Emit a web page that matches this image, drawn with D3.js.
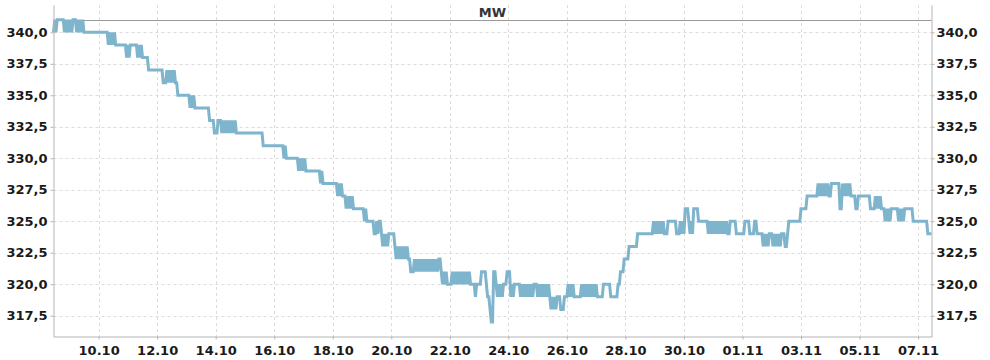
<!DOCTYPE html>
<html>
<head>
<meta charset="utf-8">
<script src="https://cdn.jsdelivr.net/npm/d3@7"></script>
<style>
  html, body { margin: 0; padding: 0; background: #fff; }
  svg { display: block; }
  text { font-family: "DejaVu Sans", sans-serif; }
</style>
</head>
<body>
<svg id="chart" width="990" height="360"></svg>
<script>
// ---- DATA ----
const seriesTitle = "MW";
const seriesStart = "2023-10-08T11:00:00";   // first hourly sample
const domainStart = "2023-10-08T11:00:00";
const domainEnd   = "2023-11-07T11:00:00";
const refLevel = 341;                         // grey reference line at top
const yTicks = [317.5, 320, 322.5, 325, 327.5, 330, 332.5, 335, 337.5, 340];
const xTicks = ["2023-10-10","2023-10-12","2023-10-14","2023-10-16","2023-10-18",
                "2023-10-20","2023-10-22","2023-10-24","2023-10-26","2023-10-28",
                "2023-10-30","2023-11-01","2023-11-03","2023-11-05","2023-11-07"];
// hourly readings, run-length encoded: [MW value, number of hours]
const runs = [
  [340,1],[341,1],[340,1],[341,6],
  [340,1],[341,1],[340,1],[341,1],[340,1],[341,1],[340,1],[341,1],[341,2],
  [340,1],[341,1],[340,1],[341,1],[340,1],[341,1],[340,20],
  [339,1],[340,1],[339,1],[340,1],[339,1],[340,1],[339,9],
  [338,1],[339,1],[338,1],[339,1],[339,5],
  [338,1],[339,1],[338,1],[339,1],[338,5],
  [337,12],[336,3],[337,1],
  [336,1],[337,1],[336,1],[337,1],[336,1],[337,1],[336,2],
  [335,10],[334,1],[335,1],[334,1],[335,1],[334,12],
  [333,4],[332,3],[333,3],
  [332,1],[333,1],[332,1],[333,1],[332,1],[333,1],[332,1],[333,1],[332,1],
  [333,1],[332,1],[333,1],[332,22],
  [331,17],[330,1],[331,1],[330,10],
  [329,1],[330,1],[329,1],[330,1],[329,1],[330,1],[329,12],
  [328,1],[329,1],[328,12],
  [327,1],[328,1],[327,1],[328,1],[327,3],
  [326,1],[327,1],[326,1],[327,1],[326,1],[327,1],[326,1],[326,8],
  [325,1],[326,1],[325,6],[324,2],
  [325,1],[324,1],[325,2],[324,1],
  [323,1],[324,1],[323,1],[324,1],[323,1],[324,5],
  [323,1],[322,1],[323,1],[322,1],[323,1],[322,1],[323,1],[322,1],[323,1],[322,1],[323,1],[322,1],[322,1],
  [321,3],[322,1],
  [321,1],[322,1],[321,1],[322,1],[321,1],[322,1],[321,1],[322,1],[321,1],[322,1],
  [321,1],[322,1],[321,1],[322,1],[321,1],[322,1],[321,1],[322,1],[321,1],[322,1],
  [322,1],
  [321,1],[320,1],[321,1],[320,1],[321,1],[320,4],
  [321,1],[320,1],[321,1],[320,1],[321,1],[320,1],
  [321,1],[320,1],[321,1],[320,1],[321,1],[320,1],[321,1],[320,1],[321,1],
  [320,4],[319,1],[320,4],[321,4],
  [320,1],[319,2],[318,1],[317,2],[321,2],
  [320,1],[319,1],[320,1],[319,1],[320,1],[319,1],
  [320,3],[321,3],
  [319,1],[320,1],[319,1],[320,5],
  [319,1],[320,1],[319,1],[320,1],[319,1],[320,1],[319,1],[320,1],[319,1],[320,1],[319,1],[320,1],
  [320,2],[319,1],[320,1],
  [319,1],[320,1],[319,1],[320,1],[319,1],[320,1],[319,1],[320,1],
  [319,1],[318,1],[319,1],[318,1],[319,1],[318,1],
  [319,3],[318,3],[319,3],
  [320,1],[319,1],[320,1],[319,1],[320,1],[319,1],[319,5],
  [320,1],[319,1],[320,1],[319,1],[320,1],[319,1],[320,1],[319,1],
  [320,1],[319,1],[320,1],[319,1],[320,1],[319,1],[319,4],
  [320,6],[319,6],[320,2],[321,3],[322,4],[323,7],[324,13],
  [325,1],[324,1],[325,1],[324,1],[325,1],[324,1],[325,1],[324,1],[325,1],[324,1],[324,2],
  [325,7],[324,3],
  [325,1],[324,1],[325,1],[324,1],
  [326,3],
  [325,1],[324,1],[325,1],[324,1],
  [326,4],[325,8],
  [324,1],[325,1],[324,1],[325,1],[324,1],[325,1],[324,1],[325,1],
  [324,1],[325,1],[324,1],[325,1],[324,1],[325,1],[324,1],[325,1],[324,2],
  [325,5],[324,7],[325,4],[324,4],[325,2],[324,5],
  [323,1],[324,1],[323,1],[324,1],[323,1],[324,3],
  [323,1],[324,1],[323,1],[324,1],[323,1],[324,1],[323,1],[324,1],
  [324,2],[323,2],[324,1],
  [325,10],[326,5],[327,9],
  [328,1],[327,1],[328,1],[327,1],[328,1],[327,1],[328,1],[327,1],[328,1],[327,1],[327,1],
  [328,7],[326,2],
  [328,1],[327,1],[328,1],[327,1],[328,1],[327,1],[328,1],[327,1],
  [327,3],[326,2],[327,10],[326,4],
  [327,1],[326,1],[327,1],[326,1],[327,1],[326,3],
  [325,1],[326,1],[325,1],[326,1],[325,1],[326,6],
  [325,1],[326,1],[325,1],[326,1],[325,1],[326,7],
  [325,12],[324,4]
];

// ---- CHART ----
const parse = d3.isoParse;
const t0 = parse(seriesStart);
const data = [];
let h = 0;
runs.forEach(([v, n]) => {
  for (let i = 0; i < n; i++) {
    data.push({ t: d3.timeHour.offset(t0, h), v });
    h++;
  }
});

const svg = d3.select("#chart");
const L = 53.5, R = 931.5, T = 5, B = 336.5;

const x = d3.scaleTime().domain([parse(domainStart), parse(domainEnd)]).range([L, R]);
const y = d3.scaleLinear().domain([315.85, 342.17]).range([B, T]);

const locale = d3.formatLocale({ decimal: ",", thousands: ".", grouping: [3], currency: ["", ""] });
const fmtY = locale.format(".1f");
const fmtX = d3.timeFormat("%d.%m");
const xTickDates = xTicks.map(s => parse(s + "T00:00:00"));

// grid
const grid = svg.append("g").attr("class", "grid");
grid.selectAll("line.h").data(yTicks).join("line")
  .attr("x1", L).attr("x2", R)
  .attr("y1", d => Math.round(y(d)) + 0.5).attr("y2", d => Math.round(y(d)) + 0.5)
  .attr("stroke", "#dcdcdc").attr("stroke-dasharray", "3,3");
grid.selectAll("line.v").data(xTickDates).join("line")
  .attr("y1", T).attr("y2", B)
  .attr("x1", d => Math.round(x(d)) + 0.5).attr("x2", d => Math.round(x(d)) + 0.5)
  .attr("stroke", "#dcdcdc").attr("stroke-dasharray", "3,3");

// reference line
svg.append("line")
  .attr("x1", L).attr("x2", R)
  .attr("y1", Math.round(y(refLevel)) + 0.5).attr("y2", Math.round(y(refLevel)) + 0.5)
  .attr("stroke", "#9a9a9a").attr("stroke-width", 1.2);

// series line
svg.append("path")
  .datum(data)
  .attr("fill", "none")
  .attr("stroke", "#7fb4cd")
  .attr("stroke-width", 3)
  .attr("d", d3.line().x(d => x(d.t)).y(d => y(d.v)));

// axes
function styleAxis(g) {
  g.selectAll(".domain").attr("stroke", "#b4b4b4");
  g.selectAll(".tick line").attr("stroke", "#b4b4b4");
  g.selectAll(".tick text")
    .attr("fill", "#1a1a1a")
    .style("font-family", "'DejaVu Sans', sans-serif")
    .style("font-size", "13px")
    .style("font-weight", "bold");
}
const yl = svg.append("g").attr("transform", `translate(${L},0)`)
  .call(d3.axisLeft(y).tickValues(yTicks).tickFormat(fmtY).tickSize(3).tickSizeOuter(0).tickPadding(3));
styleAxis(yl);
const yr = svg.append("g").attr("transform", `translate(${R},0)`)
  .call(d3.axisRight(y).tickValues(yTicks).tickFormat(fmtY).tickSize(3).tickSizeOuter(0).tickPadding(2));
styleAxis(yr);
const xb = svg.append("g").attr("transform", `translate(0,${B})`)
  .call(d3.axisBottom(x).tickValues(xTickDates).tickFormat(fmtX).tickSize(3).tickSizeOuter(0).tickPadding(6));
styleAxis(xb);

// title
svg.append("text")
  .attr("x", (L + R) / 2).attr("y", 17)
  .attr("text-anchor", "middle")
  .attr("fill", "#333")
  .style("font-size", "13px")
  .style("font-weight", "bold")
  .text(seriesTitle);
</script>
</body>
</html>
